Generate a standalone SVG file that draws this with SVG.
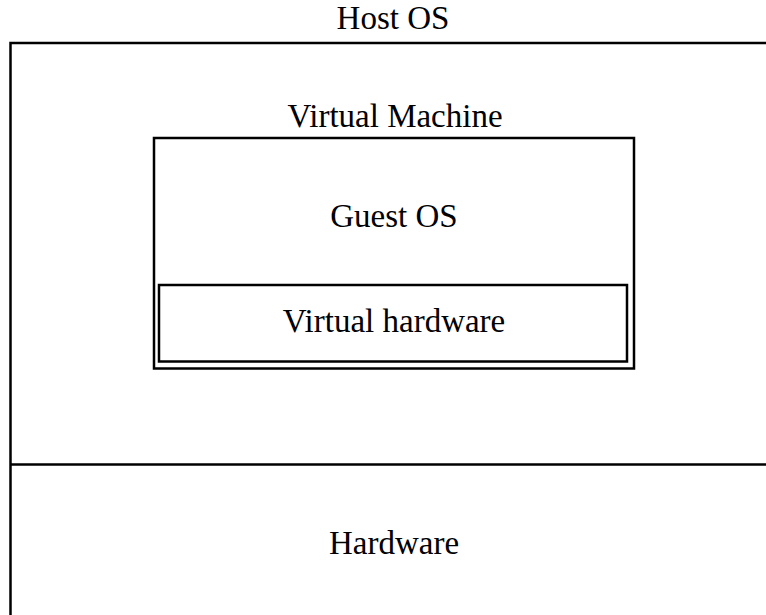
<svg xmlns="http://www.w3.org/2000/svg" width="766" height="615" viewBox="0 0 766 615">
<style>
.box{fill:none;stroke:#000;stroke-width:2.5}
.lbl{font-family:"Liberation Serif","Times New Roman",serif;font-size:33px;fill:#000;text-anchor:middle}
</style>
<rect width="766" height="615" fill="#fff"/>
<g id="host-os">
<rect class="box" x="10.5" y="43" width="768" height="600"/>
<text class="lbl" x="393" y="29">Host OS</text>
</g>
<g id="hardware">
<line class="box" x1="10.5" y1="464.5" x2="780" y2="464.5"/>
<text class="lbl" x="394" y="554">Hardware</text>
</g>
<g id="virtual-machine">
<rect class="box" x="154" y="138" width="480" height="230.5"/>
<text class="lbl" x="395" y="127">Virtual Machine</text>
</g>
<g id="guest-os">
<text class="lbl" x="394" y="227">Guest OS</text>
</g>
<g id="virtual-hardware">
<rect class="box" x="159" y="285" width="468" height="76.5"/>
<text class="lbl" x="394" y="332">Virtual hardware</text>
</g>
<g id="connectors"/>
</svg>
